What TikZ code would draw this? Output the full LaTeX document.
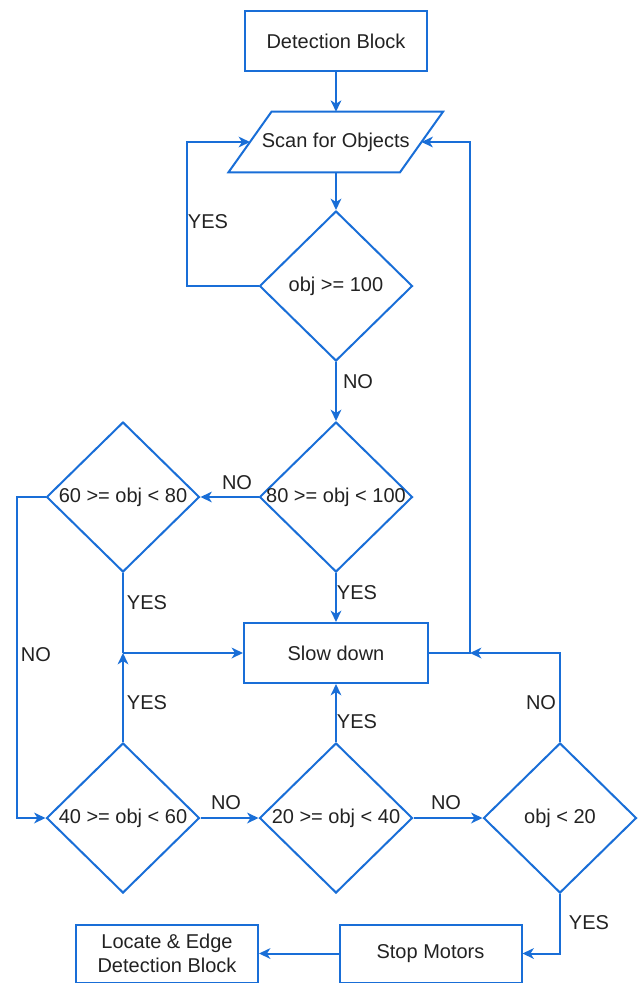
\documentclass[tikz,border=0pt]{standalone}
\usepackage{fontspec}
\setmainfont{Liberation Sans}
\usetikzlibrary{shapes.geometric,arrows.meta,calc}
\definecolor{fc}{RGB}{25,110,215}
\definecolor{tc}{RGB}{34,34,34}
\begin{document}
\begin{tikzpicture}[x=0.75pt,y=-0.75pt,
 every node/.style={font=\fontsize{15}{18}\selectfont, text=tc},
 box/.style={draw=fc, line width=1.5pt, minimum width=182*0.75pt, minimum height=60*0.75pt, inner sep=0, align=center},
 dec/.style={draw=fc, line width=1.5pt, shape=diamond, minimum width=153*0.75pt, minimum height=150*0.75pt, inner sep=0},
 con/.style={draw=fc, line width=1.5pt, -{Stealth[length=8.5pt,width=8pt,inset=2.5pt]}},
 lin/.style={draw=fc, line width=1.5pt},
 lab/.style={inner sep=0}]
\useasboundingbox (0,0) rectangle (638,983);
% nodes
\node[box] (det) at (336,41) {Detection Block};
\node[minimum width=171*0.75pt, minimum height=60*0.75pt, inner sep=0] (scan) at (335.75,142) {Scan for Objects};
\draw[lin, line join=miter] ($(scan.north west)+(21.5,0)$) -- ($(scan.north east)+(21.5,0)$) -- ($(scan.south east)+(-21.5,0)$) -- ($(scan.south west)+(-21.5,0)$) -- cycle;
\node[dec, label={[lab]center:obj >= 100}] (d100) at (336,286) {};
\node[dec, label={[lab]center:80 >= obj < 100}] (d80) at (336,497) {};
\node[dec, label={[lab]center:60 >= obj < 80}] (d60) at (123,497) {};
\node[box, minimum width=184*0.75pt] (slow) at (336,653) {Slow down};
\node[dec, label={[lab]center:40 >= obj < 60}] (d40) at (123,818) {};
\node[dec, label={[lab]center:20 >= obj < 40}] (d20) at (336,818) {};
\node[dec, label={[lab]center:obj < 20}] (dl20) at (560,818) {};
\node[box, minimum height=58*0.75pt] (stop) at (430.5,953.5) {Stop Motors};
\node[box, minimum height=58*0.75pt] (loc) at (167,953.5) {Locate \& Edge\\Detection Block};
% coordinates
\coordinate (yl) at (187,142);
\coordinate (j1) at (123,653);
\coordinate (nl) at (17,497);
\coordinate (j2) at (470,653);
% connectors
\draw[con] (det.south) -- (det.south |- scan.north);
\draw[con] (d100.north |- scan.south) -- (d100.north);
\draw[con] (d100.west) -| (yl) -- (scan.west);
\draw[con] (d100.south) -- (d80.north);
\draw[con] (d80.west) -- (d60.east);
\draw[con] (d80.south) -- (slow.north);
\draw[lin] (d60.south) -- (j1);
\draw[con] (j1) -- (slow.west);
\draw[con] (d40.north) -- (j1);
\draw[con] (d60.west) -- (nl) |- (d40.west);
\draw[con] (d40.east) -- (d20.west);
\draw[con] (d20.north) -- (slow.south);
\draw[con] (d20.east) -- (dl20.west);
\draw[con] (dl20.north) |- (j2);
\draw[con] (slow.east) -- (j2) |- (scan.east);
\draw[con] (dl20.south) |- (stop.east);
\draw[con] (stop.west) -- (loc.east);
% labels
\node[lab] (l1) at (208,222) {YES};
\node[lab] (l2) at (358,382) {NO};
\node[lab] (l3) at (237,483) {NO};
\node[lab] (l4) at (357,593) {YES};
\node[lab] (l5) at (147,603) {YES};
\node[lab] (l6) at (36,655) {NO};
\node[lab] (l7) at (147,703) {YES};
\node[lab] (l8) at (357,722) {YES};
\node[lab] (l9) at (226,803) {NO};
\node[lab] (l10) at (446,803) {NO};
\node[lab] (l11) at (541,703) {NO};
\node[lab] (l12) at (589,923) {YES};
\end{tikzpicture}
\end{document}
